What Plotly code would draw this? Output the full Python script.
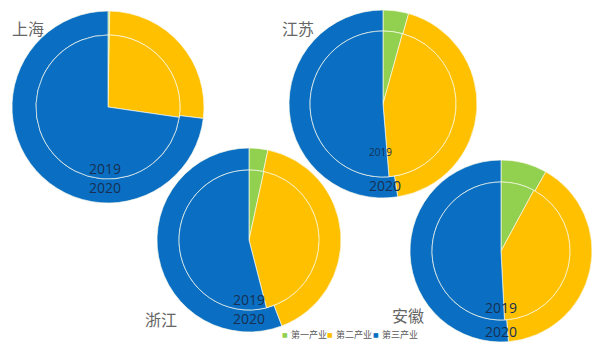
import plotly.graph_objects as go

W, H = 604, 356

regions = ["上海", "江苏", "浙江", "安徽"]
industries = ["第一产业", "第二产业", "第三产业"]
colors = ["#92D050", "#FFC000", "#0A6FC2"]
years = ["2019", "2020"]

# shares (%) : primary, secondary, tertiary
share_2019 = {
    "上海": [0.3, 27.0, 72.7],
    "江苏": [4.3, 44.4, 51.3],
    "浙江": [3.4, 42.6, 54.0],
    "安徽": [7.9, 41.3, 50.8],
}
share_2020 = {
    "上海": [0.3, 26.6, 73.1],
    "江苏": [4.4, 43.1, 52.5],
    "浙江": [3.3, 40.9, 55.8],
    "安徽": [8.2, 40.5, 51.3],
}

# layout geometry (pixels): center x, center y, outer radius, inner radius
geom = {
    "上海": (108, 107, 96, 72),
    "江苏": (383, 104, 94, 73),
    "浙江": (249, 240, 92, 70),
    "安徽": (501, 251, 91, 69),
}
name_pos = {
    "上海": (28, 28),
    "江苏": (298, 28),
    "浙江": (161, 319),
    "安徽": (408, 315),
}
year_pos = {
    "上海": [(105, 168, 14), (105, 187, 14)],
    "江苏": [(381, 152, 10), (385, 185, 14)],
    "浙江": [(249, 299, 14), (249, 318, 14)],
    "安徽": [(501, 307, 14), (501, 331, 14)],
}


def dom(cx, cy, r):
    return dict(
        x=[(cx - r) / W, (cx + r) / W],
        y=[1 - (cy + r) / H, 1 - (cy - r) / H],
    )


line_style = dict(color="rgba(250,250,235,0.85)", width=0.8)

fig = go.Figure()
for reg in regions:
    cx, cy, ro, ri = geom[reg]
    # outer ring: 2020
    fig.add_trace(go.Pie(
        labels=industries, values=share_2020[reg], sort=False,
        direction="clockwise", rotation=0, hole=ri / ro,
        domain=dom(cx, cy, ro), textinfo="none", hoverinfo="label+percent",
        marker=dict(colors=colors, line=line_style),
        showlegend=False, name=reg + " 2020",
    ))
    # inner pie: 2019
    fig.add_trace(go.Pie(
        labels=industries, values=share_2019[reg], sort=False,
        direction="clockwise", rotation=0,
        domain=dom(cx, cy, ri), textinfo="none", hoverinfo="label+percent",
        marker=dict(colors=colors, line=line_style),
        showlegend=False, name=reg + " 2019",
    ))

annotations = []
for reg in regions:
    x, y = name_pos[reg]
    annotations.append(dict(
        x=x / W, y=1 - y / H, xref="paper", yref="paper", text=reg,
        showarrow=False, xanchor="center", yanchor="middle",
        font=dict(family="Noto Sans CJK SC", size=16, color="#666666"),
    ))
    for yr, (x, y, s) in zip(years, year_pos[reg]):
        annotations.append(dict(
            x=x / W, y=1 - y / H, xref="paper", yref="paper", text=yr,
            showarrow=False, xanchor="center", yanchor="middle",
            font=dict(family="Open Sans", size=s, color="#172F52"),
        ))

# legend built from annotations
leg_x = [285, 330, 376]
leg_y = 334
for lx, lab, col in zip(leg_x, industries, colors):
    annotations.append(dict(
        x=lx / W, y=1 - leg_y / H, xref="paper", yref="paper", text="■",
        showarrow=False, xanchor="center", yanchor="middle",
        font=dict(family="DejaVu Sans", size=6, color=col),
    ))
    annotations.append(dict(
        x=(lx + 4) / W, y=1 - leg_y / H, xref="paper", yref="paper", text=lab,
        showarrow=False, xanchor="left", yanchor="middle",
        font=dict(family="Noto Sans CJK SC", size=9, color="#595959"),
    ))

fig.update_layout(
    width=W, height=H, margin=dict(l=0, r=0, t=0, b=0),
    paper_bgcolor="white", plot_bgcolor="white",
    annotations=annotations, showlegend=False,
)

fig.write_html(
    "out.html",
    config={"displayModeBar": False},
    post_script="document.body.style.margin='0';document.body.style.padding='0';",
)
